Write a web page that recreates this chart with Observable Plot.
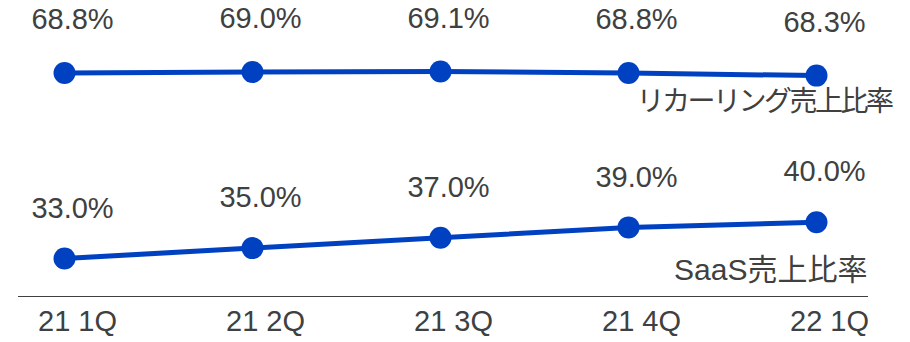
<!DOCTYPE html>
<html>
<head>
<meta charset="utf-8">
<script src="https://cdn.jsdelivr.net/npm/d3@7"></script>
<script src="https://cdn.jsdelivr.net/npm/@observablehq/plot@0.6"></script>
<style>
  html, body { margin: 0; padding: 0; background: #fff; }
  #chart svg { display: block; }
  .rec-name text { letter-spacing: -2.5px; }
</style>
</head>
<body>
<div id="chart"></div>
<script>
const quarters = ["21 1Q", "21 2Q", "21 3Q", "21 4Q", "22 1Q"];
const recurring = [68.8, 69.0, 69.1, 68.8, 68.3];
const saas = [33.0, 35.0, 37.0, 39.0, 40.0];
const seriesNames = ["リカーリング売上比率", "SaaS売上比率"];

const blue = "#0041c2";
const grey = "#404040";
const numFont = "'Liberation Sans', Arial, sans-serif";
const jpFont = "'Liberation Sans', 'Noto Sans CJK JP', sans-serif";

const recData = quarters.map((q, i) => ({q, v: recurring[i], label: recurring[i].toFixed(1) + "%"}));
const saasData = quarters.map((q, i) => ({q, v: saas[i], label: saas[i].toFixed(1) + "%"}));
const yMin = 25.66, yMax = 82.8;

const chart = Plot.plot({
  width: 910,
  height: 342,
  marginLeft: 18,
  marginRight: 42,
  marginTop: 0,
  marginBottom: 46,
  style: {background: "#fff", fontFamily: numFont},
  x: {type: "point", domain: quarters, padding: 0.26, align: 0.47},
  y: {domain: [yMin, yMax], axis: null},
  marks: [
    Plot.ruleY([yMin], {stroke: grey, strokeWidth: 1.2}),
    Plot.axisX({tickSize: 0, tickPadding: 14, fontSize: 29, fill: grey, dx: 13, label: null, fontFamily: numFont}),
    Plot.line(recData, {x: "q", y: "v", stroke: blue, strokeWidth: 5}),
    Plot.line(saasData, {x: "q", y: "v", stroke: blue, strokeWidth: 5}),
    Plot.dot(recData, {x: "q", y: "v", r: 11, fill: blue, stroke: null}),
    Plot.dot(saasData, {x: "q", y: "v", r: 11, fill: blue, stroke: null}),
    Plot.text(recData, {x: "q", y: "v", text: "label", dx: 8, dy: -53, fontSize: 29, fill: grey, lineAnchor: "middle", fontFamily: numFont}),
    Plot.text(saasData, {x: "q", y: "v", text: "label", dx: 8, dy: -50, fontSize: 29, fill: grey, lineAnchor: "middle", fontFamily: numFont}),
    Plot.text([seriesNames[0]], {x: () => quarters[4], y: () => recurring[4], text: d => d, textAnchor: "end", dx: 75, dy: 26, fontSize: 28, fill: grey, lineAnchor: "middle", fontFamily: jpFont, className: "rec-name"}),
    Plot.text([seriesNames[1]], {x: () => quarters[4], y: () => saas[4], text: d => d, textAnchor: "end", dx: 51, dy: 48, fontSize: 30, fill: grey, lineAnchor: "middle", fontFamily: jpFont})
  ]
});
document.getElementById("chart").appendChild(chart);
</script>
</body>
</html>
